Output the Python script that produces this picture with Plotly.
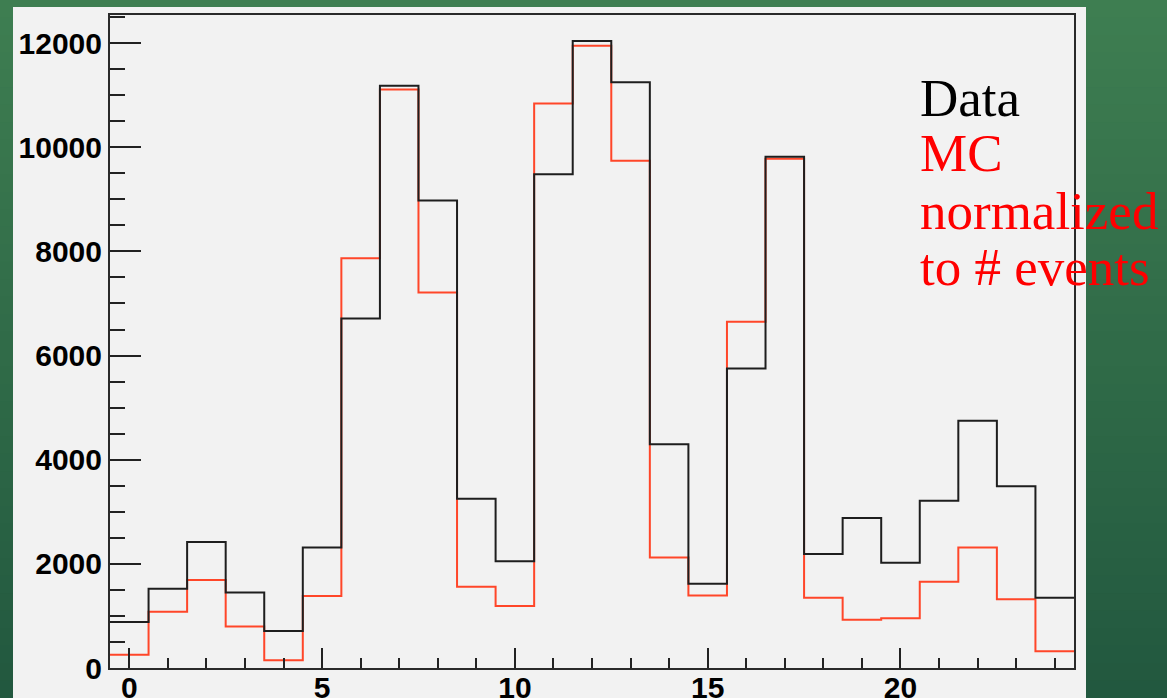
import plotly.graph_objects as go

# Bin centres (integer channels) and histogram contents
bins = list(range(25))
data_counts = [885, 1520, 2420, 1450, 710, 2315, 6710, 11180, 8980, 3250,
               2050, 9480, 12040, 11250, 4295, 1620, 5750, 9820, 2190, 2880,
               2020, 3210, 4750, 3490, 1350]
mc_counts = [255, 1080, 1690, 795, 150, 1385, 7870, 11110, 7210, 1560,
             1190, 10840, 11950, 9740, 2120, 1390, 6650, 9780, 1350, 925,
             955, 1655, 2315, 1320, 320]

legend_lines = [("Data", "#000000"), ("MC", "#ff0000"),
                ("normalized", "#ff0000"), ("to # events", "#ff0000")]

W, H = 1167, 698
ML, MR, MT, MB = 110, 93, 15, 30
PW, PH = W - ML - MR, H - MT - MB


def px_x(px):
    return (px - ML) / PW


def px_y(py):
    return (H - MB - py) / PH


def step_xy(counts):
    # histogram outline: bin edges with last content repeated
    edges = [b - 0.5 for b in bins] + [bins[-1] + 0.5]
    return edges, list(counts) + [counts[-1]]


fig = go.Figure()

mx, my = step_xy(mc_counts)
fig.add_trace(go.Scatter(x=mx, y=my, mode="lines", line_shape="hv",
                         line=dict(color="#ff4629", width=2), cliponaxis=False,
                         hoverinfo="skip", showlegend=False))
dx, dy = step_xy(data_counts)
fig.add_trace(go.Scatter(x=dx, y=dy, mode="lines", line_shape="hv",
                         line=dict(color="#1e1e1e", width=2), cliponaxis=False,
                         hoverinfo="skip", showlegend=False))

shapes = []
# green slide backdrop, vertical gradient in bands
top_c = (62, 126, 81)
bot_c = (34, 88, 63)
n = 40
for i in range(n):
    t = i / (n - 1)
    c = tuple(round(top_c[k] + (bot_c[k] - top_c[k]) * t) for k in range(3))
    y0 = i * H / n
    y1 = (i + 1) * H / n + 1
    shapes.append(dict(type="rect", xref="paper", yref="paper",
                       x0=px_x(0), x1=px_x(W), y0=px_y(y1), y1=px_y(y0),
                       fillcolor="rgb(%d,%d,%d)" % c, line_width=0, layer="below"))
# light canvas panel
shapes.append(dict(type="rect", xref="paper", yref="paper",
                   x0=px_x(13), x1=px_x(1086), y0=px_y(H + 2), y1=px_y(7),
                   fillcolor="#f2f2f2", line_width=0, layer="below"))

annotations = []
baselines = [117, 172, 230, 286]
fs = 53
for (txt, col), base in zip(legend_lines, baselines):
    annotations.append(dict(text=txt, xref="paper", yref="paper",
                            x=px_x(918), y=px_y(base + 0.23 * fs),
                            xanchor="left", yanchor="bottom", showarrow=False,
                            font=dict(family="Liberation Serif", size=fs, color=col)))

tick_font = dict(family="Liberation Sans", size=30, color="#000000",
                 weight="bold")

fig.update_layout(
    width=W, height=H,
    margin=dict(l=ML, r=MR, t=MT, b=MB, pad=0),
    paper_bgcolor="rgb(40,100,70)",
    plot_bgcolor="rgba(0,0,0,0)",
    shapes=shapes,
    annotations=annotations,
    showlegend=False,
    xaxis=dict(range=[-0.5, 24.5], tick0=0, dtick=5, ticks="inside",
               ticklen=20, tickwidth=2, tickcolor="#222",
               minor=dict(dtick=1, tick0=0, ticks="inside", ticklen=10,
                          tickwidth=2, tickcolor="#222"),
               showline=True, linecolor="#2a2a2a", linewidth=2, mirror=True,
               showgrid=False, zeroline=False, tickfont=tick_font,
               tickformat="d",
               ticklabelstandoff=-8, automargin=False, fixedrange=True),
    yaxis=dict(range=[0, 12540], tick0=0, dtick=2000, ticks="inside",
               ticklen=31, tickwidth=2, tickcolor="#222",
               minor=dict(dtick=500, tick0=0, ticks="inside", ticklen=15,
                          tickwidth=2, tickcolor="#222"),
               showline=True, linecolor="#2a2a2a", linewidth=2, mirror=True,
               showgrid=False, zeroline=False, tickfont=tick_font,
               tickformat="d",
               ticklabelstandoff=0, automargin=False, fixedrange=True),
)

fig.write_html("out.html")
